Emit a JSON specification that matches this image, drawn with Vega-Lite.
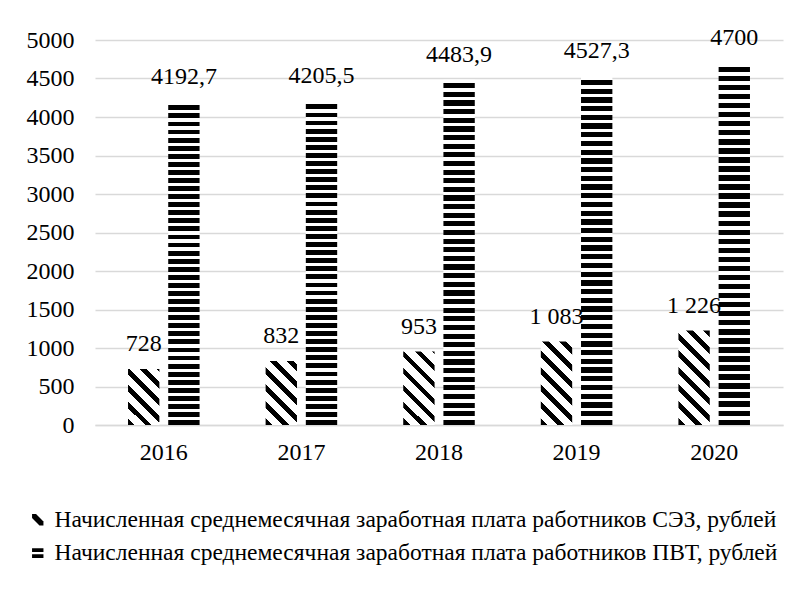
{
  "$schema": "https://vega.github.io/schema/vega-lite/v6.json",
  "width": 688,
  "height": 385,
  "autosize": {"type": "none"},
  "padding": {"left": 95, "top": 40, "right": 20, "bottom": 173},
  "background": "white",
  "config": {
    "font": "Liberation Serif",
    "view": {"stroke": null},
    "axis": {"labelFont": "Liberation Serif", "labelFontSize": 24, "labelColor": "#000", "title": null}
  },
  "data": {
    "values": [
      {"year": "2016", "s": "СЭЗ", "series": "Начисленная среднемесячная заработная плата работников СЭЗ, рублей", "value": 728, "label": "728"},
      {"year": "2017", "s": "СЭЗ", "series": "Начисленная среднемесячная заработная плата работников СЭЗ, рублей", "value": 832, "label": "832"},
      {"year": "2018", "s": "СЭЗ", "series": "Начисленная среднемесячная заработная плата работников СЭЗ, рублей", "value": 953, "label": "953"},
      {"year": "2019", "s": "СЭЗ", "series": "Начисленная среднемесячная заработная плата работников СЭЗ, рублей", "value": 1083, "label": "1 083"},
      {"year": "2020", "s": "СЭЗ", "series": "Начисленная среднемесячная заработная плата работников СЭЗ, рублей", "value": 1226, "label": "1 226"},
      {"year": "2016", "s": "ПВТ", "series": "Начисленная среднемесячная заработная плата работников ПВТ, рублей", "value": 4192.7, "label": "4192,7"},
      {"year": "2017", "s": "ПВТ", "series": "Начисленная среднемесячная заработная плата работников ПВТ, рублей", "value": 4205.5, "label": "4205,5"},
      {"year": "2018", "s": "ПВТ", "series": "Начисленная среднемесячная заработная плата работников ПВТ, рублей", "value": 4483.9, "label": "4483,9"},
      {"year": "2019", "s": "ПВТ", "series": "Начисленная среднемесячная заработная плата работников ПВТ, рублей", "value": 4527.3, "label": "4527,3"},
      {"year": "2020", "s": "ПВТ", "series": "Начисленная среднемесячная заработная плата работников ПВТ, рублей", "value": 4700, "label": "4700"}
    ]
  },
  "encoding": {
    "x": {
      "field": "year", "type": "nominal",
      "scale": {"paddingInner": 0.48, "paddingOuter": 0.24},
      "axis": {"labelAngle": 0, "ticks": false, "domainColor": "#d9d9d9", "domainWidth": 1.5, "labelPadding": 15, "grid": false}
    },
    "xOffset": {
      "field": "s", "type": "nominal",
      "sort": ["СЭЗ", "ПВТ"],
      "scale": {"paddingInner": 0.22, "paddingOuter": 0}
    },
    "y": {
      "field": "value", "type": "quantitative",
      "scale": {"domain": [0, 5000]},
      "axis": {"values": [0, 500, 1000, 1500, 2000, 2500, 3000, 3500, 4000, 4500, 5000], "format": "d", "ticks": false, "domain": false, "gridColor": "#d9d9d9", "gridWidth": 1.5, "labelPadding": 21}
    }
  },
  "layer": [
    {
      "mark": {"type": "bar", "strokeWidth": 0},
      "encoding": {
        "fill": {
          "condition": [
            {"test": "datum.s=='ПВТ'", "value": {"gradient": "linear", "x1": 0, "y1": 0, "x2": 0, "y2": 1, "stops": [
              {"offset":0,"color":"#fff"},{"offset":0.01,"color":"#fff"},{"offset":0.01,"color":"#000"},{"offset":0.025,"color":"#000"},
              {"offset":0.025,"color":"#fff"},{"offset":0.035,"color":"#fff"},{"offset":0.035,"color":"#000"},{"offset":0.05,"color":"#000"},
              {"offset":0.05,"color":"#fff"},{"offset":0.06,"color":"#fff"},{"offset":0.06,"color":"#000"},{"offset":0.075,"color":"#000"},
              {"offset":0.075,"color":"#fff"},{"offset":0.085,"color":"#fff"},{"offset":0.085,"color":"#000"},{"offset":0.1,"color":"#000"},
              {"offset":0.1,"color":"#fff"},{"offset":0.11,"color":"#fff"},{"offset":0.11,"color":"#000"},{"offset":0.125,"color":"#000"},
              {"offset":0.125,"color":"#fff"},{"offset":0.135,"color":"#fff"},{"offset":0.135,"color":"#000"},{"offset":0.15,"color":"#000"},
              {"offset":0.15,"color":"#fff"},{"offset":0.16,"color":"#fff"},{"offset":0.16,"color":"#000"},{"offset":0.175,"color":"#000"},
              {"offset":0.175,"color":"#fff"},{"offset":0.185,"color":"#fff"},{"offset":0.185,"color":"#000"},{"offset":0.2,"color":"#000"},
              {"offset":0.2,"color":"#fff"},{"offset":0.21,"color":"#fff"},{"offset":0.21,"color":"#000"},{"offset":0.225,"color":"#000"},
              {"offset":0.225,"color":"#fff"},{"offset":0.235,"color":"#fff"},{"offset":0.235,"color":"#000"},{"offset":0.25,"color":"#000"},
              {"offset":0.25,"color":"#fff"},{"offset":0.26,"color":"#fff"},{"offset":0.26,"color":"#000"},{"offset":0.275,"color":"#000"},
              {"offset":0.275,"color":"#fff"},{"offset":0.285,"color":"#fff"},{"offset":0.285,"color":"#000"},{"offset":0.3,"color":"#000"},
              {"offset":0.3,"color":"#fff"},{"offset":0.31,"color":"#fff"},{"offset":0.31,"color":"#000"},{"offset":0.325,"color":"#000"},
              {"offset":0.325,"color":"#fff"},{"offset":0.335,"color":"#fff"},{"offset":0.335,"color":"#000"},{"offset":0.35,"color":"#000"},
              {"offset":0.35,"color":"#fff"},{"offset":0.36,"color":"#fff"},{"offset":0.36,"color":"#000"},{"offset":0.375,"color":"#000"},
              {"offset":0.375,"color":"#fff"},{"offset":0.385,"color":"#fff"},{"offset":0.385,"color":"#000"},{"offset":0.4,"color":"#000"},
              {"offset":0.4,"color":"#fff"},{"offset":0.41,"color":"#fff"},{"offset":0.41,"color":"#000"},{"offset":0.425,"color":"#000"},
              {"offset":0.425,"color":"#fff"},{"offset":0.435,"color":"#fff"},{"offset":0.435,"color":"#000"},{"offset":0.45,"color":"#000"},
              {"offset":0.45,"color":"#fff"},{"offset":0.46,"color":"#fff"},{"offset":0.46,"color":"#000"},{"offset":0.475,"color":"#000"},
              {"offset":0.475,"color":"#fff"},{"offset":0.485,"color":"#fff"},{"offset":0.485,"color":"#000"},{"offset":0.5,"color":"#000"},
              {"offset":0.5,"color":"#fff"},{"offset":0.51,"color":"#fff"},{"offset":0.51,"color":"#000"},{"offset":0.525,"color":"#000"},
              {"offset":0.525,"color":"#fff"},{"offset":0.535,"color":"#fff"},{"offset":0.535,"color":"#000"},{"offset":0.55,"color":"#000"},
              {"offset":0.55,"color":"#fff"},{"offset":0.56,"color":"#fff"},{"offset":0.56,"color":"#000"},{"offset":0.575,"color":"#000"},
              {"offset":0.575,"color":"#fff"},{"offset":0.585,"color":"#fff"},{"offset":0.585,"color":"#000"},{"offset":0.6,"color":"#000"},
              {"offset":0.6,"color":"#fff"},{"offset":0.61,"color":"#fff"},{"offset":0.61,"color":"#000"},{"offset":0.625,"color":"#000"},
              {"offset":0.625,"color":"#fff"},{"offset":0.635,"color":"#fff"},{"offset":0.635,"color":"#000"},{"offset":0.65,"color":"#000"},
              {"offset":0.65,"color":"#fff"},{"offset":0.66,"color":"#fff"},{"offset":0.66,"color":"#000"},{"offset":0.675,"color":"#000"},
              {"offset":0.675,"color":"#fff"},{"offset":0.685,"color":"#fff"},{"offset":0.685,"color":"#000"},{"offset":0.7,"color":"#000"},
              {"offset":0.7,"color":"#fff"},{"offset":0.71,"color":"#fff"},{"offset":0.71,"color":"#000"},{"offset":0.725,"color":"#000"},
              {"offset":0.725,"color":"#fff"},{"offset":0.735,"color":"#fff"},{"offset":0.735,"color":"#000"},{"offset":0.75,"color":"#000"},
              {"offset":0.75,"color":"#fff"},{"offset":0.76,"color":"#fff"},{"offset":0.76,"color":"#000"},{"offset":0.775,"color":"#000"},
              {"offset":0.775,"color":"#fff"},{"offset":0.785,"color":"#fff"},{"offset":0.785,"color":"#000"},{"offset":0.8,"color":"#000"},
              {"offset":0.8,"color":"#fff"},{"offset":0.81,"color":"#fff"},{"offset":0.81,"color":"#000"},{"offset":0.825,"color":"#000"},
              {"offset":0.825,"color":"#fff"},{"offset":0.835,"color":"#fff"},{"offset":0.835,"color":"#000"},{"offset":0.85,"color":"#000"},
              {"offset":0.85,"color":"#fff"},{"offset":0.86,"color":"#fff"},{"offset":0.86,"color":"#000"},{"offset":0.875,"color":"#000"},
              {"offset":0.875,"color":"#fff"},{"offset":0.885,"color":"#fff"},{"offset":0.885,"color":"#000"},{"offset":0.9,"color":"#000"},
              {"offset":0.9,"color":"#fff"},{"offset":0.91,"color":"#fff"},{"offset":0.91,"color":"#000"},{"offset":0.925,"color":"#000"},
              {"offset":0.925,"color":"#fff"},{"offset":0.935,"color":"#fff"},{"offset":0.935,"color":"#000"},{"offset":0.95,"color":"#000"},
              {"offset":0.95,"color":"#fff"},{"offset":0.96,"color":"#fff"},{"offset":0.96,"color":"#000"},{"offset":0.975,"color":"#000"},
              {"offset":0.975,"color":"#fff"},{"offset":0.985,"color":"#fff"},{"offset":0.985,"color":"#000"},{"offset":1,"color":"#000"}
            ]}},
            {"test": "datum.year=='2016'", "value": {"gradient": "linear", "x1": 0, "y1": 1, "x2": 0.6633, "y2": -0.188, "stops": [
              {"offset":0,"color":"#000"},{"offset":0.0777,"color":"#000"},{"offset":0.0777,"color":"#fff"},{"offset":0.1942,"color":"#fff"},
              {"offset":0.1942,"color":"#000"},{"offset":0.2718,"color":"#000"},{"offset":0.2718,"color":"#fff"},{"offset":0.3883,"color":"#fff"},
              {"offset":0.3883,"color":"#000"},{"offset":0.466,"color":"#000"},{"offset":0.466,"color":"#fff"},{"offset":0.5825,"color":"#fff"},
              {"offset":0.5825,"color":"#000"},{"offset":0.6602,"color":"#000"},{"offset":0.6602,"color":"#fff"},{"offset":0.7767,"color":"#fff"},
              {"offset":0.7767,"color":"#000"},{"offset":0.8544,"color":"#000"},{"offset":0.8544,"color":"#fff"},{"offset":0.9709,"color":"#fff"},
              {"offset":0.9709,"color":"#000"},{"offset":1,"color":"#000"}
            ]}},
            {"test": "datum.year=='2017'", "value": {"gradient": "linear", "x1": 0, "y1": 1, "x2": 0.5871, "y2": -0.2017, "stops": [
              {"offset":0,"color":"#000"},{"offset":0.0712,"color":"#000"},{"offset":0.0712,"color":"#fff"},{"offset":0.1779,"color":"#fff"},
              {"offset":0.1779,"color":"#000"},{"offset":0.2491,"color":"#000"},{"offset":0.2491,"color":"#fff"},{"offset":0.3559,"color":"#fff"},
              {"offset":0.3559,"color":"#000"},{"offset":0.427,"color":"#000"},{"offset":0.427,"color":"#fff"},{"offset":0.5338,"color":"#fff"},
              {"offset":0.5338,"color":"#000"},{"offset":0.605,"color":"#000"},{"offset":0.605,"color":"#fff"},{"offset":0.7117,"color":"#fff"},
              {"offset":0.7117,"color":"#000"},{"offset":0.7829,"color":"#000"},{"offset":0.7829,"color":"#fff"},{"offset":0.8897,"color":"#fff"},
              {"offset":0.8897,"color":"#000"},{"offset":0.9609,"color":"#000"},{"offset":0.9609,"color":"#fff"},{"offset":1,"color":"#fff"}
            ]}},
            {"test": "datum.year=='2018'", "value": {"gradient": "linear", "x1": 0, "y1": 1, "x2": 0.5148, "y2": -0.2069, "stops": [
              {"offset":0,"color":"#000"},{"offset":0.0648,"color":"#000"},{"offset":0.0648,"color":"#fff"},{"offset":0.1621,"color":"#fff"},
              {"offset":0.1621,"color":"#000"},{"offset":0.2269,"color":"#000"},{"offset":0.2269,"color":"#fff"},{"offset":0.3241,"color":"#fff"},
              {"offset":0.3241,"color":"#000"},{"offset":0.389,"color":"#000"},{"offset":0.389,"color":"#fff"},{"offset":0.4862,"color":"#fff"},
              {"offset":0.4862,"color":"#000"},{"offset":0.5511,"color":"#000"},{"offset":0.5511,"color":"#fff"},{"offset":0.6483,"color":"#fff"},
              {"offset":0.6483,"color":"#000"},{"offset":0.7131,"color":"#000"},{"offset":0.7131,"color":"#fff"},{"offset":0.8104,"color":"#fff"},
              {"offset":0.8104,"color":"#000"},{"offset":0.8752,"color":"#000"},{"offset":0.8752,"color":"#fff"},{"offset":0.9724,"color":"#fff"},
              {"offset":0.9724,"color":"#000"},{"offset":1,"color":"#000"}
            ]}},
            {"test": "datum.year=='2019'", "value": {"gradient": "linear", "x1": 0, "y1": 1, "x2": 0.4525, "y2": -0.2055, "stops": [
              {"offset":0,"color":"#000"},{"offset":0.0592,"color":"#000"},{"offset":0.0592,"color":"#fff"},{"offset":0.1479,"color":"#fff"},
              {"offset":0.1479,"color":"#000"},{"offset":0.2071,"color":"#000"},{"offset":0.2071,"color":"#fff"},{"offset":0.2959,"color":"#fff"},
              {"offset":0.2959,"color":"#000"},{"offset":0.355,"color":"#000"},{"offset":0.355,"color":"#fff"},{"offset":0.4438,"color":"#fff"},
              {"offset":0.4438,"color":"#000"},{"offset":0.503,"color":"#000"},{"offset":0.503,"color":"#fff"},{"offset":0.5917,"color":"#fff"},
              {"offset":0.5917,"color":"#000"},{"offset":0.6509,"color":"#000"},{"offset":0.6509,"color":"#fff"},{"offset":0.7396,"color":"#fff"},
              {"offset":0.7396,"color":"#000"},{"offset":0.7988,"color":"#000"},{"offset":0.7988,"color":"#fff"},{"offset":0.8876,"color":"#fff"},
              {"offset":0.8876,"color":"#000"},{"offset":0.9467,"color":"#000"},{"offset":0.9467,"color":"#fff"},{"offset":1,"color":"#fff"}
            ]}},
            {"test": "datum.year=='2020'", "value": {"gradient": "linear", "x1": 0, "y1": 1, "x2": 0.3978, "y2": -0.1997, "stops": [
              {"offset":0,"color":"#000"},{"offset":0.054,"color":"#000"},{"offset":0.054,"color":"#fff"},{"offset":0.135,"color":"#fff"},
              {"offset":0.135,"color":"#000"},{"offset":0.189,"color":"#000"},{"offset":0.189,"color":"#fff"},{"offset":0.2699,"color":"#fff"},
              {"offset":0.2699,"color":"#000"},{"offset":0.3239,"color":"#000"},{"offset":0.3239,"color":"#fff"},{"offset":0.4049,"color":"#fff"},
              {"offset":0.4049,"color":"#000"},{"offset":0.4589,"color":"#000"},{"offset":0.4589,"color":"#fff"},{"offset":0.5398,"color":"#fff"},
              {"offset":0.5398,"color":"#000"},{"offset":0.5938,"color":"#000"},{"offset":0.5938,"color":"#fff"},{"offset":0.6748,"color":"#fff"},
              {"offset":0.6748,"color":"#000"},{"offset":0.7288,"color":"#000"},{"offset":0.7288,"color":"#fff"},{"offset":0.8097,"color":"#fff"},
              {"offset":0.8097,"color":"#000"},{"offset":0.8637,"color":"#000"},{"offset":0.8637,"color":"#fff"},{"offset":0.9447,"color":"#fff"},
              {"offset":0.9447,"color":"#000"},{"offset":0.9987,"color":"#000"},{"offset":0.9987,"color":"#fff"},{"offset":1,"color":"#fff"}
            ]}}
          ],
          "value": "#000"
        }
      }
    },
    {
      "mark": {"type": "text", "dy": -25, "fontSize": 24, "font": "Liberation Serif", "baseline": "middle", "color": "#000"},
      "encoding": {"text": {"field": "label", "type": "nominal"}}
    },
    {
      "transform": [{"filter": "false"}],
      "mark": {"type": "point", "filled": true, "color": "#000", "opacity": 1},
      "encoding": {
        "shape": {
          "field": "series", "type": "nominal",
          "scale": {
            "domain": ["Начисленная среднемесячная заработная плата работников СЭЗ, рублей", "Начисленная среднемесячная заработная плата работников ПВТ, рублей"],
            "range": ["M-1,-1L-0.3,-1L1,0.3L1,1L0.3,1L-1,-0.3Z", "M-1,-0.8H1V-0.15H-1Z M-1,0.25H1V0.9H-1Z"]
          },
          "legend": {
            "orient": "none", "legendX": -69, "legendY": 468, "direction": "vertical", "title": null,
            "labelFontSize": 23.5, "labelFont": "Liberation Serif", "labelColor": "#000", "labelLimit": 1000,
            "symbolSize": 130, "symbolFillColor": "#000", "symbolStrokeWidth": 0, "symbolOpacity": 1,
            "rowPadding": 8, "labelOffset": 5, "padding": 0
          }
        }
      }
    }
  ]
}
